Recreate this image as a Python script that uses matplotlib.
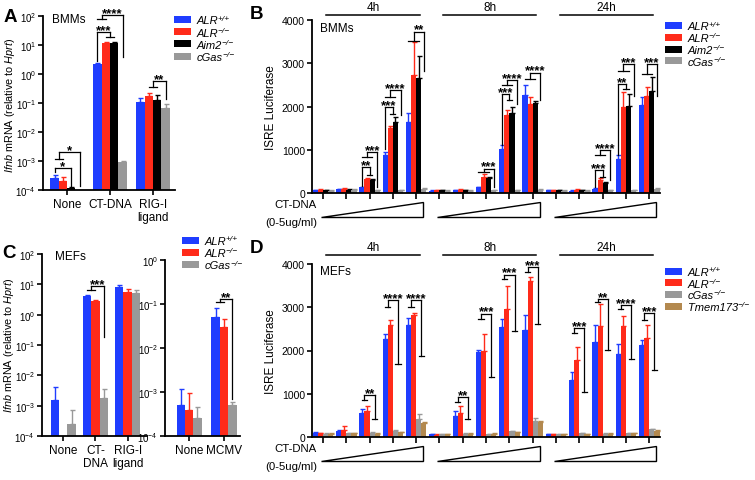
import numpy as np
import matplotlib
matplotlib.use("Agg")
import matplotlib.pyplot as plt
from matplotlib.patches import Polygon, Rectangle
from matplotlib.text import Annotation
from matplotlib.ticker import LogLocator, NullLocator, NullFormatter

plt.rcParams["font.family"] = ["Liberation Sans", "DejaVu Sans"]
plt.rcParams["mathtext.fontset"] = "custom"
plt.rcParams["mathtext.rm"] = "Liberation Sans"
plt.rcParams["mathtext.it"] = "Liberation Sans:italic"
plt.rcParams["mathtext.bf"] = "Liberation Sans:bold"

nan = np.nan

BLUE = "#1f3dff"
RED = "#ff2b1a"
BLACK = "#000000"
GRAY = "#999999"
BROWN = "#b3894f"

# legend labels: (gene, superscript)
LBL_WT = ("ALR", "+/+")
LBL_KO = ("ALR", "\u2212/\u2212")
LBL_AIM2 = ("Aim2", "\u2212/\u2212")
LBL_CGAS = ("cGas", "\u2212/\u2212")
LBL_TMEM = ("Tmem173", "\u2212/\u2212")

# ---- panel A: BMMs, Ifnb mRNA (log) ----
a_groups = ["None", "CT-DNA", "RIG-I\nligand"]
a_wt = [2.6e-4, 2.2, 0.11]
a_wt_err = [3.3e-4, 2.4, 0.15]
a_ko = [2.0e-4, 12, 0.18]
a_ko_err = [2.8e-4, 13, 0.22]
a_aim2 = [1.2e-4, 12, 0.13]
a_aim2_err = [1.3e-4, 13, 0.19]
a_cgas = [nan, 9e-4, 0.065]
a_cgas_err = [nan, 1.0e-3, 0.09]
# (group, left bars, left end, right bars, right end, top, stars)
a_sig = [
    (0, [0], 4.2e-4, [2], 1.4e-4, 5.7e-4, "*"),
    (0, [0, 1], 1.2e-3, [3], 1.4e-4, 2.0e-3, "*"),
    (1, [0], 2.8, [1, 2], 19, 28, "***"),
    (1, [0, 1], 79, [3], 3.9, 107, "****"),
    (2, [1, 2], 0.35, [3], 0.14, 0.57, "**"),
]

# ---- panel B: BMMs, ISRE luciferase ----
times = ["4h", "8h", "24h"]
b_wt = [70, 90, 130, 880, 1650, 50, 60, 130, 1020, 2260, 60, 50, 100, 790, 2040]
b_wt_err = [80, 100, 150, 950, 1850, 60, 70, 150, 1100, 2500, 70, 60, 110, 870, 2220]
b_ko = [80, 100, 320, 1500, 2730, 60, 80, 380, 1800, 2050, 60, 80, 300, 1980, 2240]
b_ko_err = [90, 110, 340, 1560, 3480, 70, 90, 440, 1920, 2220, 70, 90, 340, 2340, 2440]
b_aim2 = [70, 80, 310, 1640, 2650, 60, 60, 350, 1860, 2070, 60, 60, 240, 2020, 2360]
b_aim2_err = [80, 90, 330, 1750, 3160, 70, 70, 370, 2000, 2130, 70, 70, 260, 2300, 2680]
b_cgas = [50, 80, 70, 70, 90, 50, 50, 60, 70, 80, 50, 50, 60, 70, 90]
b_cgas_err = [60, 90, 80, 80, 110, 60, 60, 70, 80, 90, 60, 60, 70, 80, 110]
b_sig = [
    (2, [0], 160, [1, 2], 416, 600, "**"),
    (2, [0, 2], 830, [3], 150, 950, "***"),
    (3, [0], 1020, [1, 2], 1830, 1985, "***"),
    (3, [0, 2], 2215, [3], 1800, 2370, "****"),
    (4, [0, 2], 3520, [3], 2830, 3730, "**"),
    (7, [0, 2], 480, [3], 150, 560, "***"),
    (8, [0], 1100, [1, 2], 2140, 2290, "***"),
    (8, [0, 2], 2500, [3], 2050, 2615, "****"),
    (9, [0, 2], 2640, [3], 2150, 2780, "****"),
    (12, [0], 140, [1, 2], 370, 523, "***"),
    (12, [0, 2], 870, [3], 300, 985, "****"),
    (13, [0], 870, [1, 2], 2410, 2520, "**"),
    (13, [0, 2], 2830, [3], 2240, 2985, "***"),
    (14, [0, 2], 2750, [3], 2240, 2980, "***"),
]

# ---- panel C: MEFs, Ifnb mRNA (log) ----
c1_groups = ["None", "CT-\nDNA", "RIG-I\nligand"]
c1_wt = [1.5e-3, 4.0, 8.0]
c1_wt_err = [4e-3, 4.6, 9.2]
c1_ko = [nan, 2.8, 5.5]
c1_ko_err = [nan, 3.0, 7.0]
c1_cgas = [2.5e-4, 1.8e-3, 5.3]
c1_cgas_err = [7e-4, 3.5e-3, 6.5]
c1_sig = [(1, [0, 1], 6.5, [2], 0.18, 8.8, "***")]

c2_groups = ["None", "MCMV"]
c2_wt = [5e-4, 0.05]
c2_wt_err = [1.2e-3, 0.08]
c2_ko = [4e-4, 0.03]
c2_ko_err = [9.5e-4, 0.045]
c2_cgas = [2.5e-4, 5e-4]
c2_cgas_err = [4.5e-4, 6e-4]
c2_sig = [(1, [0, 1], 0.11, [2], 7e-4, 0.13, "**")]

# ---- panel D: MEFs, ISRE luciferase ----
d_wt = [100, 150, 560, 2270, 2600, 60, 490, 1970, 2540, 2470, 60, 1320, 2200, 1930, 2130]
d_wt_err = [110, 170, 640, 2370, 2760, 70, 600, 2020, 2720, 2820, 70, 1500, 2580, 2150, 2250]
d_ko = [90, 170, 600, 2580, 2830, 50, 560, 2000, 2950, 3600, 60, 1780, 2560, 2570, 2290]
d_ko_err = [100, 260, 720, 2700, 2870, 60, 720, 2380, 3500, 3700, 70, 2090, 3080, 2800, 2580]
d_cgas = [80, 90, 100, 150, 420, 60, 80, 60, 130, 380, 60, 90, 80, 90, 180]
d_cgas_err = [90, 100, 110, 170, 540, 70, 90, 70, 140, 430, 70, 100, 90, 100, 190]
d_tmem = [80, 90, 80, 110, 320, 60, 80, 80, 110, 350, 60, 70, 80, 90, 150]
d_tmem_err = [90, 100, 90, 120, 340, 70, 90, 90, 120, 380, 70, 80, 90, 100, 160]
d_sig = [
    (2, [0, 1], 846, [2, 3], 420, 960, "**"),
    (3, [0, 1], 3000, [2, 3], 1690, 3170, "****"),
    (4, [0, 1], 3000, [2, 3], 1870, 3170, "****"),
    (6, [0, 1], 810, [2, 3], 420, 920, "**"),
    (7, [0, 1], 2730, [2, 3], 1385, 2850, "***"),
    (8, [0, 1], 3650, [2, 3], 2450, 3750, "***"),
    (9, [0, 1], 3810, [2, 3], 2620, 3920, "***"),
    (11, [0, 1], 2400, [2, 3], 1040, 2515, "***"),
    (12, [0, 1], 3110, [2, 3], 2020, 3180, "**"),
    (13, [0, 1], 2960, [2, 3], 1810, 3050, "****"),
    (14, [0, 1], 2700, [2, 3], 1540, 2860, "***"),
]

W, H = 755, 481
fig = plt.figure(figsize=(W / 100, H / 100), dpi=100)


def px_axes(l, t, r, b):
    return fig.add_axes([l / W, 1 - b / H, (r - l) / W, (b - t) / H])


def style(ax, ysize=7.5):
    for s in ["top", "right"]:
        ax.spines[s].set_visible(False)
    for s in ["left", "bottom"]:
        ax.spines[s].set_linewidth(1.3)
    ax.tick_params(direction="out", length=3.5, width=1.2, labelsize=ysize, pad=1.5)
    ax.tick_params(axis="x", labelsize=8.5, pad=2)


def draw_bars(ax, series, width, log_floor=None):
    n = len(series)
    for j, (vals, errs, color) in enumerate(series):
        x = np.arange(len(vals)) + (j - (n - 1) / 2) * width
        vals = np.asarray(vals, float)
        errs = np.asarray(errs, float)
        if log_floor is not None:
            ax.bar(x, vals - log_floor, width, bottom=log_floor, color=color, zorder=2)
        else:
            ax.bar(x, vals, width, color=color, zorder=2)
        ok = ~np.isnan(vals)
        ax.errorbar(x[ok], vals[ok], yerr=[np.zeros(ok.sum()), (errs - vals)[ok]],
                    fmt="none", ecolor=color, elinewidth=1.0, capsize=1.8,
                    capthick=1.0, zorder=1)


def draw_sig(ax, sig, n, width):
    def bx(g, j):
        return g + (j - (n - 1) / 2) * width

    kw = dict(color="black", lw=0.9, clip_on=False, zorder=5)
    for g, lb, ly, rb, ry, top, stars in sig:
        ends = []
        for bars, yend in ((lb, ly), (rb, ry)):
            xs = [bx(g, j) for j in bars]
            xc = np.mean(xs)
            if len(xs) > 1:
                ax.plot([min(xs), max(xs)], [yend, yend], **kw)
            ax.plot([xc, xc], [yend, top], **kw)
            ends.append(xc)
        ax.plot(ends, [top, top], **kw)
        ax.annotate(stars, (np.mean(ends), top), xytext=(0, -0.6),
                    textcoords="offset points", ha="center", va="baseline",
                    fontsize=9.5, fontweight="bold", annotation_clip=False)


def log_axis(ax, lo, hi):
    ax.set_yscale("log")
    ax.set_ylim(lo, hi)
    ax.yaxis.set_major_locator(LogLocator(base=10, numticks=10))
    ax.yaxis.set_minor_locator(NullLocator())
    ax.yaxis.set_minor_formatter(NullFormatter())


def luc_axis(ax, line_y):
    ax.set_ylim(0, 4000)
    ax.set_xlim(-0.47, 14.46)
    ax.set_yticks([0, 1000, 2000, 3000, 4000])
    ax.set_xticks(np.arange(15))
    ax.set_xticklabels([])
    ax.tick_params(axis="x", length=4)
    ax.set_ylabel("ISRE Luciferase", fontsize=8.5)
    ax.yaxis.set_label_coords(-0.1, 0.5)
    tr = ax.get_xaxis_transform()
    for k, t in enumerate(times):
        x0, x1 = 5 * k + 0.15, 5 * k + 4.15
        ax.plot([x0, x1], [line_y, line_y], color="black", lw=1.1,
                transform=tr, clip_on=False)
        ax.text((x0 + x1) / 2, line_y + 0.012, t, transform=tr, ha="center",
                va="bottom", fontsize=8.5)
        tri = Polygon([(5 * k - 0.1, -0.139), (5 * k + 4.3, -0.139),
                       (5 * k + 4.3, -0.052)], closed=True, facecolor="white",
                      edgecolor="black", lw=1.0, transform=tr, clip_on=False)
        ax.add_patch(tri)


ylab_ifnb = r"$\mathit{Ifnb}$ mRNA (relative to $\mathit{Hprt}$)"

# ---- A ----
axA = px_axes(43, 17, 175, 191)
style(axA, 7)
log_axis(axA, 1e-4, 1e2)
draw_bars(axA, [(a_wt, a_wt_err, BLUE), (a_ko, a_ko_err, RED),
                (a_aim2, a_aim2_err, BLACK), (a_cgas, a_cgas_err, GRAY)],
          0.195, log_floor=1e-4)
axA.set_xlim(-0.56, 2.51)
axA.set_xticks(range(3))
axA.set_xticklabels(a_groups, linespacing=1.1)
axA.set_ylabel(ylab_ifnb, fontsize=7.8)
axA.yaxis.set_label_coords(-0.2, 0.494)
draw_sig(axA, a_sig, 4, 0.195)
axA.text(0.07, 0.98, "BMMs", transform=axA.transAxes, fontsize=8.5, va="center")

# ---- B ----
axB = px_axes(312, 21, 660, 194)
style(axB)
draw_bars(axB, [(b_wt, b_wt_err, BLUE), (b_ko, b_ko_err, RED),
                (b_aim2, b_aim2_err, BLACK), (b_cgas, b_cgas_err, GRAY)], 0.22)
luc_axis(axB, 1.03)
draw_sig(axB, b_sig, 4, 0.22)
axB.text(0.023, 0.954, "BMMs", transform=axB.transAxes, fontsize=8.5, va="center")

# ---- C ----
axC1 = px_axes(42, 255, 147, 437)
style(axC1, 7)
log_axis(axC1, 1e-4, 1e2)
draw_bars(axC1, [(c1_wt, c1_wt_err, BLUE), (c1_ko, c1_ko_err, RED),
                 (c1_cgas, c1_cgas_err, GRAY)], 0.26, log_floor=1e-4)
axC1.set_xlim(-0.66, 2.6)
axC1.set_xticks(range(3))
axC1.set_xticklabels(c1_groups, linespacing=1.1)
axC1.set_ylabel(ylab_ifnb, fontsize=7.8)
axC1.yaxis.set_label_coords(-0.245, 0.505)
draw_sig(axC1, c1_sig, 3, 0.26)
axC1.text(0.124, 0.99, "MEFs", transform=axC1.transAxes, fontsize=8.5, va="center")

axC2 = px_axes(165, 261, 240, 437)
style(axC2, 7)
log_axis(axC2, 1e-4, 1e0)
draw_bars(axC2, [(c2_wt, c2_wt_err, BLUE), (c2_ko, c2_ko_err, RED),
                 (c2_cgas, c2_cgas_err, GRAY)], 0.24, log_floor=1e-4)
axC2.set_xlim(-0.69, 1.46)
axC2.set_xticks(range(2))
axC2.set_xticklabels(c2_groups)
draw_sig(axC2, c2_sig, 3, 0.24)

# ---- D ----
axD = px_axes(312, 265, 660, 438)
style(axD)
draw_bars(axD, [(d_wt, d_wt_err, BLUE), (d_ko, d_ko_err, RED),
                (d_cgas, d_cgas_err, GRAY), (d_tmem, d_tmem_err, BROWN)], 0.22)
luc_axis(axD, 1.052)
draw_sig(axD, d_sig, 4, 0.22)
axD.text(0.023, 0.96, "MEFs", transform=axD.transAxes, fontsize=8.5, va="center")

# CT-DNA dose labels
for y0 in (205, 449):
    fig.text(317 / W, 1 - y0 / H, "CT-DNA", ha="right", va="center", fontsize=8.2)
    fig.text(317 / W, 1 - (y0 + 18.5) / H, "(0-5ug/ml)", ha="right", va="center",
             fontsize=8.2)

# panel letters
for txt, x, y in (("A", 4, 17), ("B", 250, 14.5), ("C", 2, 254), ("D", 250, 249)):
    fig.text(x / W, 1 - y / H, txt, fontsize=13.5, fontweight="bold", va="center")


def legend(x, y, dy, items):
    # swatch + italic gene name + small superscript genotype, pixel positions
    for i, ((gene, sup), color) in enumerate(items):
        yc = y + i * dy
        fig.add_artist(Rectangle((x / W, 1 - (yc + 3.5) / H), 17 / W, 7 / H,
                                 transform=fig.transFigure, facecolor=color,
                                 edgecolor="none"))
        base = fig.text((x + 23) / W, 1 - (yc + 0.8) / H, gene, fontsize=8,
                        style="italic", va="center")
        fig.add_artist(Annotation(sup, xy=(1, 1), xycoords=base,
                                  xytext=(-0.5, 0.6), textcoords="offset points",
                                  ha="left", va="top", fontsize=6.0,
                                  style="italic"))


legend(174, 20.7, 12.1, [(LBL_WT, BLUE), (LBL_KO, RED), (LBL_AIM2, BLACK), (LBL_CGAS, GRAY)])
legend(665, 26.7, 11.7, [(LBL_WT, BLUE), (LBL_KO, RED), (LBL_AIM2, BLACK), (LBL_CGAS, GRAY)])
legend(182, 241, 12.3, [(LBL_WT, BLUE), (LBL_KO, RED), (LBL_CGAS, GRAY)])
legend(665, 272, 11.7, [(LBL_WT, BLUE), (LBL_KO, RED), (LBL_CGAS, GRAY), (LBL_TMEM, BROWN)])

fig.savefig("out.png", dpi=100)
